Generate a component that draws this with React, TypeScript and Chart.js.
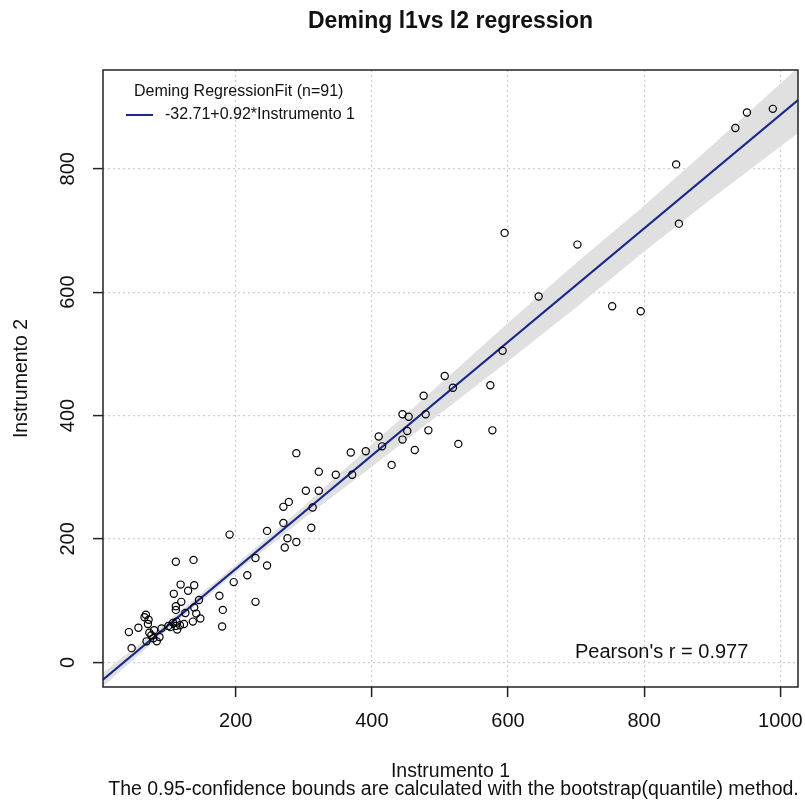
import React, { useEffect, useRef } from 'react';
import { Chart, registerables } from 'chart.js';

Chart.register(...registerables);

// Observations (Instrumento 1, Instrumento 2)
const instr1 = [
  989, 951, 934, 847, 851, 595, 702, 645, 753, 795, 592, 574,
  507, 519, 476, 445, 454, 479, 452, 483, 577, 410, 445, 415, 527, 463, 369, 391, 429, 347, 371,
  289, 322, 303, 322, 278, 270, 313, 270, 246, 311, 191, 276, 289, 272, 229, 246, 217, 197, 176, 229, 181, 180,
  112, 138, 119, 139, 130, 109, 120, 146, 112, 112, 139, 142, 148, 137, 126, 68, 72, 71, 57, 43, 101, 112, 114, 91, 73, 79, 69, 84, 47, 113,
  76, 88, 104, 118, 66, 80, 124, 108,
];
const instr2 = [
  897, 891, 866, 807, 711, 696, 677, 593, 577, 569, 505, 449,
  464, 445, 432, 402, 398, 402, 375, 376, 376, 366, 361, 350, 354, 344, 340, 342, 320, 304, 304,
  339, 309, 278, 278, 260, 252, 251, 226, 213, 218, 207, 201, 195, 186, 169, 157, 141, 130, 108, 98, 85, 58,
  163, 166, 126, 125, 116, 111, 98, 101, 91, 85, 89, 79, 71, 66, 80, 77, 69, 62, 56, 49, 59, 59, 53, 55, 48, 39, 34, 34, 23, 66,
  44, 41, 57, 60, 73, 52, 62, 64,
];

// Deming fit line endpoints (-32.71 + 0.92 * x)
const fitX = [5, 1026];
const fitY = [-28.1, 911.2];

// Bootstrap 0.95 confidence band
const bandX = [5, 100, 200, 300, 400, 500, 600, 700, 800, 900, 1026];
const bandUpper = [-17, 66, 158, 253, 353, 451, 550, 647, 740, 838, 964];
const bandLower = [-39, 53, 145, 233, 317, 403, 488, 575, 666, 752, 858];

const xTicks = [200, 400, 600, 800, 1000];
const yTicks = [0, 200, 400, 600, 800];

const titleText = 'Deming l1vs l2 regression';
const xTitle = 'Instrumento 1';
const yTitle = 'Instrumento 2';
const subText = 'The 0.95-confidence bounds are calculated with the bootstrap(quantile) method.';
const legendTitle = 'Deming RegressionFit (n=91)';
const legendLabel = '-32.71+0.92*Instrumento 1';
const pearsonText = "Pearson's r = 0.977";

const FONT = '"Liberation Sans", Arial, Helvetica, sans-serif';
const LINE_COLOR = '#1a288c';

const textPlugin = {
  id: 'rtexts',
  afterDraw(chart: any) {
    const { ctx, chartArea: ca, scales } = chart;
    ctx.save();
    // plot box
    ctx.strokeStyle = '#222';
    ctx.lineWidth = 1.5;
    ctx.strokeRect(ca.left, ca.top, ca.right - ca.left, ca.bottom - ca.top);

    ctx.fillStyle = '#111';
    ctx.textBaseline = 'middle';
    // x tick labels
    ctx.font = `20px ${FONT}`;
    ctx.textAlign = 'center';
    xTicks.forEach((v) => {
      ctx.fillText(String(v), scales.x.getPixelForValue(v), 721);
    });
    // y tick labels (rotated)
    yTicks.forEach((v) => {
      ctx.save();
      ctx.translate(68, scales.y.getPixelForValue(v));
      ctx.rotate(-Math.PI / 2);
      ctx.fillText(String(v), 0, 0);
      ctx.restore();
    });
    // title
    ctx.font = `bold 23px ${FONT}`;
    ctx.fillText(titleText, (ca.left + ca.right) / 2, 22);
    // axis titles
    ctx.font = `19.5px ${FONT}`;
    ctx.fillText(xTitle, (ca.left + ca.right) / 2, 772);
    ctx.fillText(subText, (ca.left + ca.right) / 2 + 3, 790);
    ctx.save();
    ctx.translate(22, (ca.top + ca.bottom) / 2);
    ctx.rotate(-Math.PI / 2);
    ctx.fillText(yTitle, 0, 0);
    ctx.restore();
    // legend
    ctx.font = `16px ${FONT}`;
    ctx.textAlign = 'left';
    ctx.fillText(legendTitle, 134, 92);
    ctx.strokeStyle = LINE_COLOR;
    ctx.lineWidth = 2;
    ctx.beginPath();
    ctx.moveTo(126, 115);
    ctx.lineTo(153, 115);
    ctx.stroke();
    ctx.fillText(legendLabel, 165, 115);
    // pearson
    ctx.font = `20px ${FONT}`;
    ctx.fillText(pearsonText, 575, 652);
    ctx.restore();
  },
};

export default function App() {
  const ref = useRef<HTMLCanvasElement | null>(null);

  useEffect(() => {
    if (!ref.current) return;
    const points = instr1.map((x, i) => ({ x, y: instr2[i] }));
    const lower = bandX.map((x, i) => ({ x, y: bandLower[i] }));
    const upper = bandX.map((x, i) => ({ x, y: bandUpper[i] }));
    const fit = fitX.map((x, i) => ({ x, y: fitY[i] }));

    const chart = new Chart(ref.current, {
      type: 'scatter',
      data: {
        datasets: [
          {
            type: 'line',
            label: 'lower',
            data: lower,
            borderColor: 'rgba(0,0,0,0)',
            borderWidth: 0,
            pointRadius: 0,
            fill: false,
            order: 4,
          } as any,
          {
            type: 'line',
            label: 'upper',
            data: upper,
            borderColor: 'rgba(0,0,0,0)',
            borderWidth: 0,
            pointRadius: 0,
            fill: '-1',
            backgroundColor: '#e0e0e0',
            order: 3,
          } as any,
          {
            type: 'line',
            label: 'fit',
            data: fit,
            borderColor: LINE_COLOR,
            borderWidth: 2,
            pointRadius: 0,
            fill: false,
            order: 2,
          } as any,
          {
            type: 'scatter',
            label: 'data',
            data: points,
            pointRadius: 3.6,
            pointBorderWidth: 1.2,
            pointBorderColor: '#000',
            pointBackgroundColor: 'rgba(0,0,0,0)',
            order: 1,
          } as any,
        ],
      },
      options: {
        responsive: false,
        animation: false,
        devicePixelRatio: 1,
        layout: { padding: { top: 70, right: 7, left: 0, bottom: 0 } },
        plugins: {
          legend: { display: false },
          title: { display: false },
          tooltip: { enabled: false },
        },
        scales: {
          x: {
            type: 'linear',
            min: 5,
            max: 1026,
            afterBuildTicks: (axis: any) => {
              axis.ticks = xTicks.map((v) => ({ value: v }));
            },
            afterFit: (axis: any) => {
              axis.height = 120;
            },
            ticks: { display: false },
            grid: {
              color: '#cfcfcf',
              lineWidth: 1.2,
              drawTicks: true,
              tickLength: 10,
              tickColor: '#222',
              tickWidth: 1.5,
            },
            border: { display: false, dash: [2, 3] },
          },
          y: {
            type: 'linear',
            min: -40,
            max: 960,
            afterBuildTicks: (axis: any) => {
              axis.ticks = yTicks.map((v) => ({ value: v }));
            },
            afterFit: (axis: any) => {
              axis.width = 103;
            },
            ticks: { display: false },
            grid: {
              color: '#cfcfcf',
              lineWidth: 1.2,
              drawTicks: true,
              tickLength: 10,
              tickColor: '#222',
              tickWidth: 1.5,
            },
            border: { display: false, dash: [2, 3] },
          },
        },
      },
      plugins: [textPlugin],
    });
    return () => chart.destroy();
  }, []);

  return (
    <div style={{ position: 'fixed', left: 0, top: 0, width: 805, height: 807, background: '#fff' }}>
      <canvas ref={ref} width={805} height={807} style={{ width: 805, height: 807, display: 'block' }} />
    </div>
  );
}
